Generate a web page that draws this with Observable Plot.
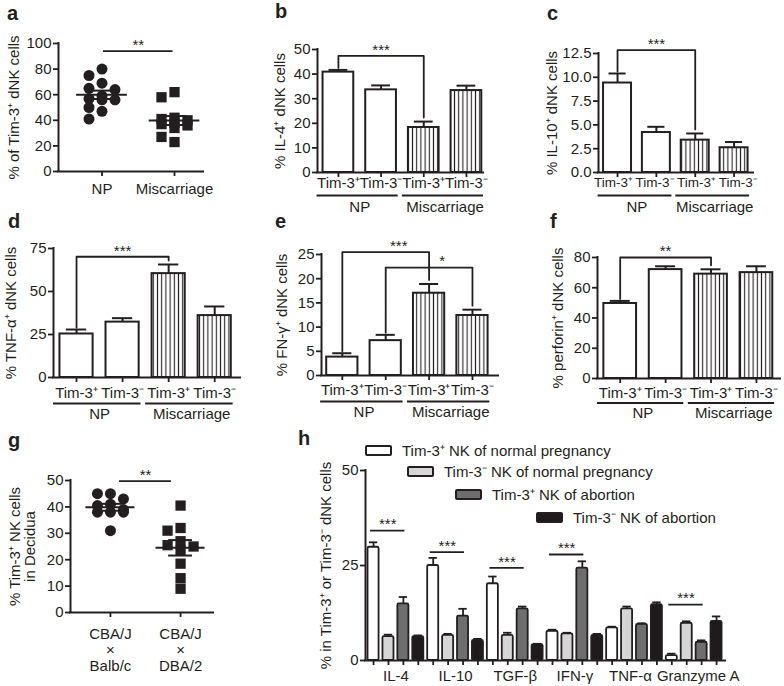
<!DOCTYPE html>
<html>
<head>
<meta charset="utf-8">
<script src="https://cdn.jsdelivr.net/npm/d3@7"></script>
<script src="https://cdn.jsdelivr.net/npm/@observablehq/plot@0.6"></script>
<style>
  body { margin: 0; background: #fff; }
  #fig { position: relative; width: 784px; height: 686px; overflow: hidden; background: #fff;
         font-family: "Liberation Sans", Arial, Helvetica, sans-serif; color: #231f20; }
  .lbl { position: absolute; font-weight: bold; font-size: 20px; line-height: 1; }
  .leg { position: absolute; display: flex; align-items: center; height: 16px; font-size: 15px; line-height: 1; white-space: nowrap; }
  .sw { box-sizing: border-box; width: 27px; height: 11px; border: 2px solid #231f20; border-radius: 2px; margin-right: 10px; }
</style>
</head>
<body>
<svg width="0" height="0" style="position:absolute">
  <defs>
    <pattern id="hatch" patternUnits="userSpaceOnUse" width="4.2" height="8">
      <rect width="4.2" height="8" fill="#fff"></rect>
      <line x1="2.1" y1="0" x2="2.1" y2="8" stroke="#231f20" stroke-width="1.1"></line>
    </pattern>
  </defs>
</svg>
<div id="fig"></div>
<script>
// ---------------- data ----------------
// a: scatter, % of Tim-3+ dNK cells
const aGroups = ["NP", "Miscarriage"];
const aNP = [80, 75, 69, 65, 64, 59, 57, 56, 56, 50, 47, 41];
const aMis = [62, 58, 42, 41, 40, 38, 37, 36, 34, 27, 23];
const aSig = [{from: 0, to: 1, level: 94, label: "**"}];

// bar panels b-f share the same categories
const barTicks = ["Tim-3⁺", "Tim-3⁻", "Tim-3⁺", "Tim-3⁻"];
const barCond = ["NP", "NP", "Miscarriage", "Miscarriage"];

const bMean = [40.8, 33.6, 18.3, 33.3];
const bErr = [0.9, 1.8, 2.4, 2.0];
const bSig = [{from: 0, to: 2, level: 47.4, label: "***"}];

const cMean = [9.4, 4.2, 3.4, 2.6];
const cErr = [1.0, 0.6, 0.7, 0.6];
const cSig = [{from: 0, to: 2, level: 12.85, label: "***"}];

const dMean = [25.3, 32.2, 60.4, 36.0];
const dErr = [2.6, 2.3, 5.3, 5.3];
const dSig = [{from: 0, to: 2, level: 70.2, label: "***"}];

const eMean = [3.8, 7.2, 17.0, 12.4];
const eErr = [0.8, 1.2, 1.9, 1.2];
const eSig = [{from: 0, to: 2, level: 25.5, label: "***"}, {from: 1, to: 3, level: 22.3, label: "*"}];

const fMean = [49.6, 72.0, 69.0, 70.0];
const fErr = [1.7, 2.2, 3.2, 4.2];
const fSig = [{from: 0, to: 2, level: 80, label: "**"}];

// g: scatter, mouse decidua
const gGroups = ["CBA/J\n×\nBalb/c", "CBA/J\n×\nDBA/2"];
const gBalb = [45, 45, 43, 41, 40.5, 39, 38, 38, 38, 31];
const gDBA = [40.5, 32, 31, 27, 25.5, 25, 23.5, 18.5, 13, 9];
const gSig = [{from: 0, to: 1, level: 49.8, label: "**"}];

// h: grouped bars
const hCytokines = ["IL-4", "IL-10", "TGF-β", "IFN-γ", "TNF-α", "Granzyme A"];
const hSeries = ["Tim-3⁺ NK of normal pregnancy", "Tim-3⁻ NK of normal pregnancy", "Tim-3⁺ NK of abortion", "Tim-3⁻ NK of abortion"];
const hMeans = [
  [29.8, 25.0, 20.2, 7.7, 8.6, 1.3],
  [6.3, 6.6, 6.6, 7.0, 13.6, 9.8],
  [14.9, 11.7, 13.6, 24.3, 9.5, 4.8],
  [6.3, 5.3, 4.2, 6.6, 14.7, 10.3]
];
const hErrs = [
  [1.3, 2.0, 1.9, 0.4, 0.3, 0.5],
  [0.5, 0.4, 0.7, 0.3, 0.6, 0.5],
  [1.8, 1.9, 0.6, 1.8, 0.3, 0.5],
  [0.3, 0.4, 0.2, 0.4, 0.6, 1.3]
];
const hSig = [
  {g: 0, level: 34.2, label: "***"},
  {g: 1, level: 28.5, label: "***"},
  {g: 2, level: 24.4, label: "***"},
  {g: 3, level: 27.9, label: "***"},
  {g: 5, level: 14.7, label: "***"}
];

// ---------------- styles / layout ----------------
const ink = "#231f20";
const hColors = ["#ffffff", "#d6d6d6", "#6e6e6e", "#1f1b1c"];
const hLabelDx = [0, 0, 0, 0, -4, 4];
const font = "'Liberation Sans', Arial, Helvetica, sans-serif";
const fig = document.getElementById("fig");

function makePlot(box, frame, xDomain, yDomain, marks) {
  const [left, top, width, height] = box;
  const [x0, x1, yTop, y0] = frame;
  const svg = Plot.plot({
    width, height,
    marginLeft: x0 - left, marginRight: left + width - x1,
    marginTop: yTop - top, marginBottom: top + height - y0,
    x: {domain: xDomain},
    y: {domain: yDomain},
    style: {background: "transparent", fontFamily: font, fontSize: "15px", color: ink,
            position: "absolute", left: left + "px", top: top + "px", maxWidth: "none", overflow: "visible"},
    marks
  });
  fig.append(svg);
}

function axisLines(xDomain, yDomain) {
  return [
    Plot.ruleX([xDomain[0]], {y1: yDomain[0], y2: yDomain[1], stroke: ink, strokeWidth: 2, strokeLinecap: "square"}),
    Plot.ruleY([yDomain[0]], {x1: xDomain[0], x2: xDomain[1], stroke: ink, strokeWidth: 2, strokeLinecap: "square"})
  ];
}

function titleMark(title, titleX, x0) {
  return Plot.text([title], {text: d => d, frameAnchor: "left", dx: titleX - x0, rotate: -90,
    textAnchor: "middle", lineAnchor: "middle", fontSize: 15, lineHeight: 1, fill: ink});
}

// simple beeswarm offsets (pixels) derived from the values
function swarm(values, pxY, step, minDist) {
  const order = values.map((v, i) => i).sort((a, b) => values[b] - values[a]);
  const placed = [];
  const off = new Array(values.length).fill(0);
  const cands = [0, -1, 1];
  for (const i of order) {
    const yp = values[i] * pxY;
    let best = 0, bestD = -1;
    for (const c of cands) {
      const xp = c * step;
      const d = placed.length ? d3.min(placed, p => Math.hypot(p.x - xp, p.y - yp)) : Infinity;
      if (d >= minDist) { best = xp; bestD = d; break; }
      if (d > bestD) { bestD = d; best = xp; }
    }
    placed.push({x: best, y: yp});
    off[i] = best;
  }
  return off;
}

function sigLabelX(sig) {
  // centre of the bracket, nudged aside if another bracket's leg stands there
  return sig.map(s => {
    const mid = (s.from + s.to) / 2;
    const blocked = sig.some(t => t !== s && (t.from === mid || t.to === mid));
    return {...s, lx: blocked ? mid + 0.3 : mid};
  });
}

function scatterPanel(o) {
  const [x0, x1, yTop, y0] = o.frame;
  const pxY = (y0 - yTop) / (o.yDomain[1] - o.yDomain[0]);
  const pxX = (x1 - x0) / (o.xDomain[1] - o.xDomain[0]);
  const pts = [];
  o.series.forEach((vals, g) => {
    const off = swarm(vals, pxY, 13, 10);
    vals.forEach((v, i) => pts.push({g, v, x: g + off[i] / pxX}));
  });
  const stats = o.series.map((vals, g) => {
    const m = d3.mean(vals), s = d3.deviation(vals) / Math.sqrt(vals.length);
    return {g, m, lo: m - s, hi: m + s};
  });
  const marks = [
    ...axisLines(o.xDomain, o.yDomain),
    Plot.axisY({ticks: o.yTicks, tickSize: 5, tickPadding: 2, fontSize: 15, strokeWidth: 1.8, label: null}),
    Plot.axisX({ticks: o.groups.map((_, i) => i), tickFormat: i => o.groups[i], tickSize: 5,
      tickPadding: o.labelPad, fontSize: 15, strokeWidth: 1.8, label: null, lineHeight: 1.08}),
    ...o.symbols.map((sym, g) => Plot.dot(pts.filter(p => p.g === g),
      {x: "x", y: "v", symbol: sym, r: sym === "square" ? 5.8 : 5.5, fill: ink, stroke: "none"})),
    Plot.ruleY(stats, {y: "m", x1: d => d.g - 0.35, x2: d => d.g + 0.35, stroke: ink, strokeWidth: 2}),
    Plot.ruleX(stats, {x: "g", y1: "lo", y2: "hi", stroke: ink, strokeWidth: 2}),
    Plot.ruleY(stats, {y: "hi", x1: d => d.g - 0.17, x2: d => d.g + 0.17, stroke: ink, strokeWidth: 2}),
    Plot.ruleY(stats, {y: "lo", x1: d => d.g - 0.17, x2: d => d.g + 0.17, stroke: ink, strokeWidth: 2}),
    Plot.ruleY(o.sig, {y: "level", x1: d => d.from + o.sigInset, x2: d => d.to - o.sigInset, stroke: ink, strokeWidth: 1.8}),
    Plot.text(o.sig, {x: d => (d.from + d.to) / 2, y: "level", text: "label", dy: -6, fontSize: 15, fill: ink}),
    titleMark(o.title, o.titleX, x0)
  ];
  makePlot(o.box, o.frame, o.xDomain, o.yDomain, marks);
}

function barPanel(o) {
  const [x0, x1, yTop, y0] = o.frame;
  const pxY = (y0 - yTop) / (o.yDomain[1] - o.yDomain[0]);
  const hw = 0.36, cap = 0.22;
  const tickFont = o.tickFont || 15, spread = o.tickSpread || 0;
  const bars = o.means.map((m, i) => ({i, m, top: m + o.errs[i], cond: barCond[i], t: barTicks[i]}));
  const lines = [];
  o.sig.forEach((s, k) => {
    lines.push({k, x: s.from, y: bars[s.from].top + 2 / pxY},
               {k, x: s.from, y: s.level},
               {k, x: s.to, y: s.level},
               {k, x: s.to, y: bars[s.to].top + 4 / pxY});
  });
  const conds = d3.groups(bars, d => d.cond).map(([c, arr]) => ({c, a: d3.min(arr, d => d.i), b: d3.max(arr, d => d.i)}));
  const mid = (bars.length - 1) / 2;
  const marks = [
    Plot.rect(bars.filter(d => d.cond === "NP"), {x1: d => d.i - hw, x2: d => d.i + hw, y1: 0, y2: "m", fill: "#ffffff", stroke: ink, strokeWidth: 2}),
    Plot.rect(bars.filter(d => d.cond !== "NP"), {x1: d => d.i - hw, x2: d => d.i + hw, y1: 0, y2: "m", fill: "url(#hatch)", stroke: ink, strokeWidth: 2}),
    Plot.ruleX(bars, {x: "i", y1: "m", y2: "top", stroke: ink, strokeWidth: 2}),
    Plot.ruleY(bars, {y: "top", x1: d => d.i - cap, x2: d => d.i + cap, stroke: ink, strokeWidth: 2}),
    ...axisLines(o.xDomain, o.yDomain),
    Plot.axisY({ticks: o.yTicks, tickFormat: o.yFormat, tickSize: 5, tickPadding: 2, fontSize: 15, strokeWidth: 1.8, label: null}),
    Plot.axisX({ticks: bars.map(d => d.i), tickFormat: () => "", tickSize: 5, strokeWidth: 1.8, label: null}),
    Plot.text(bars, {x: d => d.i + (d.i - mid) * spread, y: 0, dy: 5 + o.tickPad, text: "t",
      lineAnchor: "top", fontSize: tickFont, fill: ink}),
    Plot.ruleY(conds, {y: 0, x1: d => d.a - 0.5, x2: d => d.b + 0.4, dy: o.underDy, stroke: ink, strokeWidth: 2}),
    Plot.text(conds, {x: d => (d.a + d.b) / 2, y: 0, dy: o.groupDy, text: "c", fontSize: 15, fill: ink}),
    Plot.line(lines, {x: "x", y: "y", z: "k", stroke: ink, strokeWidth: 1.8}),
    Plot.text(sigLabelX(o.sig), {x: "lx", y: "level", text: "label", dy: -6, fontSize: 15, fill: ink}),
    titleMark(o.title, o.titleX, x0)
  ];
  makePlot(o.box, o.frame, o.xDomain, o.yDomain, marks);
}

function panelH() {
  const box = [290, 440, 494, 246], frame = [365, 725, 470, 660];
  const xDomain = [-0.54, 23.6], yDomain = [0, 50];
  const hw = 0.37, cap = 0.28;
  const bars = [];
  hSeries.forEach((name, s) => hMeans[s].forEach((m, g) => bars.push({i: g * 4 + s, s, g, m, top: m + hErrs[s][g]})));
  const groupsPos = hCytokines.map((c, g) => ({c, g, x: g * 4 + 1.5}));
  const marks = [
    ...hSeries.map((name, s) => Plot.rect(bars.filter(d => d.s === s),
      {x1: d => d.i - hw, x2: d => d.i + hw, y1: 0, y2: "m", fill: hColors[s], stroke: ink, strokeWidth: 1.8, rx: 1.5})),
    Plot.ruleX(bars, {x: "i", y1: "m", y2: "top", stroke: ink, strokeWidth: 1.8}),
    Plot.ruleY(bars, {y: "top", x1: d => d.i - cap, x2: d => d.i + cap, stroke: ink, strokeWidth: 1.8}),
    ...axisLines(xDomain, yDomain),
    Plot.axisY({ticks: [0, 25, 50], tickSize: 5, tickPadding: 2, fontSize: 15, strokeWidth: 1.8, label: null}),
    Plot.axisX({ticks: d3.range(24), tickFormat: () => "", tickSize: 5, strokeWidth: 1.8, label: null}),
    ...groupsPos.map(p => Plot.text([p], {x: "x", y: 0, dy: 10, dx: hLabelDx[p.g], text: "c", lineAnchor: "top", fontSize: 15, fill: ink})),
    Plot.ruleY(hSig, {y: "level", x1: d => d.g * 4 - 0.2, x2: d => d.g * 4 + 2.1, stroke: ink, strokeWidth: 1.8}),
    Plot.text(hSig, {x: d => d.g * 4 + 0.95, y: "level", text: "label", dy: -6, fontSize: 15, fill: ink}),
    titleMark("% in Tim-3⁺ or Tim-3⁻ dNK cells", 326, frame[0])
  ];
  makePlot(box, frame, xDomain, yDomain, marks);

  // legend (staggered, as in the original)
  const legendPos = [[365, 450], [407, 471], [455, 494], [536, 517]];
  hSeries.forEach((name, s) => {
    const div = document.createElement("div");
    div.className = "leg";
    div.style.left = legendPos[s][0] + "px";
    div.style.top = (legendPos[s][1] - 8) + "px";
    const sw = document.createElement("span");
    sw.className = "sw";
    sw.style.background = hColors[s];
    const tx = document.createElement("span");
    tx.textContent = name;
    div.append(sw, tx);
    fig.append(div);
  });
}

// ---------------- draw ----------------
scatterPanel({box: [0, 22, 240, 190], frame: [58, 203, 43, 171], xDomain: [-0.6, 1.4], yDomain: [0, 100],
  yTicks: [0, 20, 40, 60, 80, 100], groups: aGroups, series: [aNP, aMis], symbols: ["circle", "square"],
  sig: aSig, sigInset: 0.02, labelPad: 6, title: "% of Tim-3⁺ dNK cells", titleX: 14});

barPanel({box: [255, 22, 260, 195], frame: [317, 483, 49, 172], xDomain: [-0.49, 3.4], yDomain: [0, 50],
  yTicks: [0, 10, 20, 30, 40, 50], means: bMean, errs: bErr, sig: bSig,
  tickPad: 0, underDy: 23, groupDy: 35, title: "% IL-4⁺ dNK cells", titleX: 280});

barPanel({box: [520, 22, 264, 195], frame: [598, 753, 53, 172], xDomain: [-0.49, 3.5], yDomain: [0, 12.5],
  yTicks: [0, 2.5, 5, 7.5, 10, 12.5], yFormat: d3.format(".1f"), means: cMean, errs: cErr, sig: cSig,
  tickPad: 0, tickFont: 13.5, tickSpread: 0.07, underDy: 23, groupDy: 35, title: "% IL-10⁺ dNK cells", titleX: 552});

barPanel({box: [0, 230, 250, 195], frame: [53, 240, 248, 377], xDomain: [-0.5, 3.56], yDomain: [0, 75],
  yTicks: [0, 25, 50, 75], means: dMean, errs: dErr, sig: dSig,
  tickPad: 5, underDy: 26, groupDy: 36.5, title: "% TNF-α⁺ dNK cells", titleX: 11});

barPanel({box: [255, 230, 260, 195], frame: [321, 498, 254, 375], xDomain: [-0.48, 3.6], yDomain: [0, 25],
  yTicks: [0, 5, 10, 15, 20, 25], means: eMean, errs: eErr, sig: eSig,
  tickPad: 4, underDy: 26, groupDy: 37, title: "% FN-γ⁺ dNK cells", titleX: 282});

barPanel({box: [520, 230, 264, 195], frame: [597, 780, 257, 378], xDomain: [-0.5, 3.53], yDomain: [0, 80],
  yTicks: [0, 20, 40, 60, 80], means: fMean, errs: fErr, sig: fSig,
  tickPad: 4, underDy: 24.5, groupDy: 35, title: "% perforin⁺ dNK cells", titleX: 558});

scatterPanel({box: [0, 450, 240, 236], frame: [70, 213, 480, 612], xDomain: [-0.57, 1.47], yDomain: [0, 50],
  yTicks: [0, 10, 20, 30, 40, 50], groups: gGroups, series: [gBalb, gDBA], symbols: ["circle", "square"],
  sig: gSig, sigInset: 0.13, labelPad: 10, title: "% Tim-3⁺ NK cells\nin Decidua", titleX: 22.5});

panelH();

// panel letters
const letters = [["a", 7, 20], ["b", 275, 18], ["c", 547, 20], ["d", 8, 228], ["e", 275, 228], ["f", 550, 228], ["g", 8, 447], ["h", 298, 445]];
for (const [t, x, base] of letters) {
  const div = document.createElement("div");
  div.className = "lbl";
  div.textContent = t;
  div.style.left = x + "px";
  div.style.top = (base - 17) + "px";
  fig.append(div);
}
</script>
</body>
</html>
